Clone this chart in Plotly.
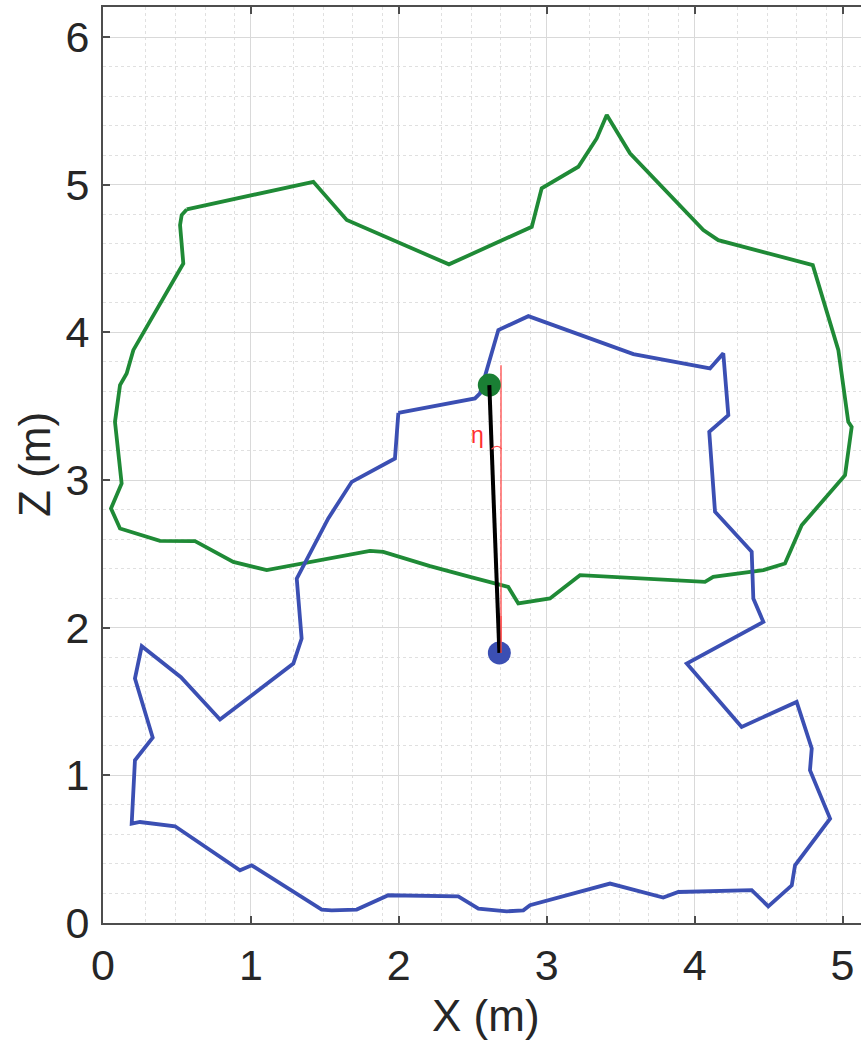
import plotly.graph_objects as go

# Green trajectory (X, Z in metres)
green_x = [0.566, 1.422, 1.648, 2.339, 2.899, 2.966, 3.214, 3.338, 3.406, 3.563, 4.059, 4.160,
           4.799, 4.972, 5.039, 5.062, 5.017, 4.724, 4.611, 4.465, 4.126, 4.070, 3.225, 3.022,
           2.808, 2.740, 2.481, 2.211, 1.895, 1.805, 1.107, 0.881, 0.622, 0.385, 0.115, 0.054,
           0.126, 0.081, 0.115, 0.160, 0.205, 0.543, 0.521, 0.532, 0.566]
green_z = [4.833, 5.020, 4.761, 4.461, 4.715, 4.976, 5.122, 5.314, 5.472, 5.213, 4.693, 4.625,
           4.456, 3.880, 3.394, 3.360, 3.033, 2.694, 2.435, 2.390, 2.344, 2.310, 2.356, 2.198,
           2.164, 2.276, 2.344, 2.417, 2.514, 2.520, 2.390, 2.446, 2.586, 2.588, 2.672, 2.808,
           2.977, 3.394, 3.643, 3.722, 3.880, 4.467, 4.727, 4.795, 4.833]

# Blue trajectory (X, Z in metres)
blue_x = [1.997, 1.974, 1.682, 1.523, 1.310, 1.343, 1.287, 0.791, 0.527, 0.262, 0.216, 0.336,
          0.216, 0.205, 0.194, 0.250, 0.487, 0.926, 1.005, 1.479, 1.546, 1.715, 1.929, 2.402,
          2.538, 2.730, 2.842, 2.887, 3.428, 3.788, 3.890, 4.386, 4.498, 4.657, 4.679, 4.916,
          4.780, 4.792, 4.690, 4.318, 3.947, 4.465, 4.397, 4.386, 4.138, 4.099, 4.228, 4.194,
          4.104, 3.586, 2.876, 2.673, 2.549, 2.515, 1.997]
blue_z = [3.455, 3.146, 2.988, 2.740, 2.333, 1.927, 1.757, 1.378, 1.665, 1.875, 1.656, 1.256,
          1.102, 0.831, 0.673, 0.684, 0.655, 0.357, 0.391, 0.091, 0.086, 0.091, 0.188, 0.181,
          0.098, 0.079, 0.086, 0.120, 0.267, 0.172, 0.210, 0.222, 0.113, 0.255, 0.391, 0.707,
          1.035, 1.182, 1.497, 1.328, 1.757, 2.039, 2.198, 2.514, 2.785, 3.327, 3.440, 3.858,
          3.756, 3.853, 4.110, 4.016, 3.587, 3.553, 3.455]

# Robot positions and pendulum link
green_pos = [2.612, 3.643]
blue_pos = [2.680, 1.829]
vertical_x = [2.691, 2.691]
vertical_z = [1.829, 3.778]
arc_x = [2.627, 2.645, 2.664, 2.682, 2.696]
arc_z = [3.209, 3.224, 3.229, 3.224, 3.209]
eta_label = "η"
eta_pos = [2.535, 3.304]

x_ticks = [0, 1, 2, 3, 4, 5]
z_ticks = [0, 1, 2, 3, 4, 5, 6]
x_minor = [k + d for k in range(6) for d in (0.29, 0.49, 0.69, 0.89) if k + d < 5.125]
z_minor = [round(0.2 * i, 2) for i in range(32) if i % 5 != 0]

GREEN = "#1f8a36"
BLUE = "#3b4fb3"
AXIS = "#4d4d4d"
TXT = "#262626"
FONT = "Liberation Sans, Arial"

fig = go.Figure()
fig.add_trace(go.Scatter(x=green_x, y=green_z, mode="lines",
                         line=dict(color=GREEN, width=3.8), hoverinfo="skip"))
fig.add_trace(go.Scatter(x=blue_x, y=blue_z, mode="lines",
                         line=dict(color=BLUE, width=3.8), hoverinfo="skip"))
fig.add_trace(go.Scatter(x=vertical_x, y=vertical_z, mode="lines",
                         line=dict(color="#ff4a4a", width=1.3), hoverinfo="skip"))
fig.add_trace(go.Scatter(x=[blue_pos[0]], y=[blue_pos[1]], mode="markers",
                         marker=dict(color=BLUE, size=23), hoverinfo="skip"))
fig.add_trace(go.Scatter(x=[green_pos[0]], y=[green_pos[1]], mode="markers",
                         marker=dict(color="#1a7f34", size=23), hoverinfo="skip"))
fig.add_trace(go.Scatter(x=[blue_pos[0], green_pos[0]], y=[blue_pos[1], green_pos[1]], mode="lines",
                         line=dict(color="#000000", width=4), hoverinfo="skip"))
fig.add_trace(go.Scatter(x=vertical_x, y=[blue_pos[1], blue_pos[1] + 0.25], mode="lines",
                         line=dict(color="#ff4a4a", width=1.3), hoverinfo="skip"))
fig.add_trace(go.Scatter(x=arc_x, y=arc_z, mode="lines",
                         line=dict(color="#ff4a4a", width=1.2), hoverinfo="skip"))

fig.add_annotation(x=eta_pos[0], y=eta_pos[1], text=eta_label, showarrow=False,
                   font=dict(family=FONT, size=23, color="#ff3030"))

# Axis titles
fig.add_annotation(xref="paper", yref="paper", x=0.505, y=0, yanchor="middle", yshift=-92,
                   text="X (m)", showarrow=False, font=dict(family=FONT, size=44, color=TXT))
fig.add_annotation(xref="paper", yref="paper", x=0, y=0.5, xanchor="center", xshift=-69,
                   textangle=-90, text="Z (m)", showarrow=False,
                   font=dict(family=FONT, size=44, color=TXT))

axis_common = dict(
    showline=True, linecolor=AXIS, linewidth=2,
    ticks="inside", ticklen=7, tickwidth=1.5, tickcolor=AXIS,
    showgrid=True, gridcolor="#d9d9d9", gridwidth=1,
    zeroline=False, automargin=False,
    tickfont=dict(family=FONT, size=43, color=TXT),
)

fig.update_xaxes(
    range=[0, 5.125], tickmode="array", tickvals=x_ticks, mirror="ticks",
    ticklabelstandoff=3,
    minor=dict(tickmode="array", tickvals=x_minor, showgrid=True, gridcolor="#e0e0e0",
               griddash="dot", gridwidth=1, ticks=""),
    **axis_common,
)
fig.update_yaxes(
    range=[0, 6.204], tickmode="array", tickvals=z_ticks, mirror=False,
    ticklabelstandoff=3,
    minor=dict(tickmode="array", tickvals=z_minor, showgrid=True, gridcolor="#e0e0e0",
               griddash="dot", gridwidth=1, ticks=""),
    **axis_common,
)

fig.update_layout(
    width=861, height=1046,
    margin=dict(l=103, r=0, t=7, b=123),
    plot_bgcolor="white", paper_bgcolor="white",
    showlegend=False,
)

fig.write_html("out.html", config={"displayModeBar": False},
               post_script="document.body.style.margin='0';document.body.style.overflow='hidden';")
